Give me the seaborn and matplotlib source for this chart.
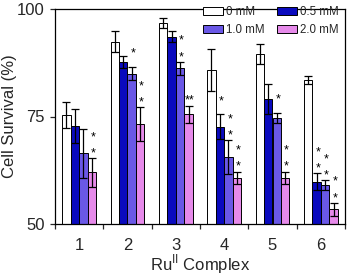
import matplotlib
matplotlib.use("Agg")
import matplotlib.pyplot as plt
from matplotlib.patches import Patch
import seaborn as sns
import pandas as pd

# ---- data ----
complexes = ['1', '2', '3', '4', '5', '6']
conc_labels = ['0 mM', '0.5 mM', '1.0 mM', '2.0 mM']
surv_0 = [75.4, 92.4, 96.8, 85.8, 89.5, 83.5]
err_0 = [3.0, 2.5, 1.2, 4.8, 2.4, 0.9]
surv_05 = [72.8, 87.7, 93.6, 72.6, 79.0, 59.8]
err_05 = [3.9, 1.4, 1.3, 2.9, 3.5, 2.0]
surv_10 = [66.4, 85.0, 86.2, 65.6, 74.7, 59.1]
err_10 = [5.8, 1.6, 1.5, 3.9, 1.2, 1.1]
surv_20 = [62.0, 73.2, 75.5, 60.8, 60.8, 53.4]
err_20 = [3.3, 4.0, 2.0, 1.4, 1.4, 1.5]
# significance marks: '*' single, ':' two stacked, '**' side by side
sig_0 = ['', '', '', '', '', '']
sig_05 = ['', '', '', '*', '', ':']
sig_10 = ['', '*', ':', ':', '*', ':']
sig_20 = [':', ':', '**', ':', ':', ':']
yticks = [50, 75, 100]

colors = ['#FFFFFF', '#0A0ABE', '#6A58E6', '#E68AEA']

surv = [surv_0, surv_05, surv_10, surv_20]
errs = [err_0, err_05, err_10, err_20]
sigs = [sig_0, sig_05, sig_10, sig_20]

rows = []
for lab, vals in zip(conc_labels, surv):
    for c, v in zip(complexes, vals):
        rows.append({'Complex': c, 'Conc': lab, 'Survival': v})
df = pd.DataFrame(rows)

sns.set_style('ticks')
plt.rcParams['font.family'] = ['Liberation Sans', 'DejaVu Sans']

fig = plt.figure(figsize=(3.49, 2.79), dpi=100)
ax = fig.add_axes([55 / 349, 1 - 224 / 279, 290 / 349, 215 / 279])

sns.barplot(data=df, x='Complex', y='Survival', hue='Conc', order=complexes,
            hue_order=conc_labels, palette=colors, errorbar=None, width=0.7,
            edgecolor='black', linewidth=0.7, saturation=1, legend=False, ax=ax)

for cont, err, sig in zip(ax.containers, errs, sigs):
    xs = [p.get_x() + p.get_width() / 2 for p in cont.patches]
    hs = [p.get_height() for p in cont.patches]
    ax.errorbar(xs, hs, yerr=err, fmt='none', ecolor='black', elinewidth=0.9,
                capsize=2.6, capthick=0.9, zorder=5)
    for x, h, e, s in zip(xs, hs, err, sig):
        top = h + e
        if s == '*':
            offs = [7.0]
        elif s == ':':
            offs = [1.4, 13.0]
        elif s == '**':
            offs = [1.4]
        else:
            offs = []
        for o in offs:
            ax.annotate('*' if s != '**' else '**', xy=(x, top), xytext=(1.0, o),
                        textcoords='offset points', ha='center', va='baseline',
                        fontsize=9, color='black', zorder=6)

ax.set_ylim(50, 100)
ax.set_xlim(-0.5, 5.5)
ax.set_yticks(yticks)
ax.set_yticklabels([str(t) for t in yticks])
ax.set_xticks(range(len(complexes)))
ax.set_xticklabels(complexes)
ax.set_xticks([i - 0.5 for i in range(len(complexes) + 1)], minor=True)
ax.tick_params(axis='x', which='major', length=0, pad=10, labelsize=12)
ax.tick_params(axis='x', which='minor', length=3.5, width=0.9, direction='out')
ax.tick_params(axis='y', which='major', length=3.5, width=0.9, direction='out',
               pad=4, labelsize=12)
for sp in ax.spines.values():
    sp.set_visible(True)
    sp.set_linewidth(0.9)
    sp.set_color('black')

ax.set_ylabel('Cell Survival (%)', fontsize=12, labelpad=0)
ax.set_xlabel('Ru$^{\\mathregular{II}}$ Complex', fontsize=12, labelpad=0)

handles = [Patch(facecolor=c, edgecolor='black', linewidth=0.7) for c in colors]
order = [0, 2, 1, 3]  # row-wise filling: 0 mM, 0.5 mM / 1.0 mM, 2.0 mM
ax.legend([handles[i] for i in order], [conc_labels[i] for i in order],
          loc='upper right', ncol=2, frameon=False,
          bbox_to_anchor=(339 / 349, 1 - 6 / 279), bbox_transform=fig.transFigure,
          fontsize=8.3, handlelength=1.75, handleheight=0.65, handletextpad=0.3,
          columnspacing=1.0, labelspacing=0.5, borderpad=0, borderaxespad=0)

fig.savefig('out.png', dpi=100)
